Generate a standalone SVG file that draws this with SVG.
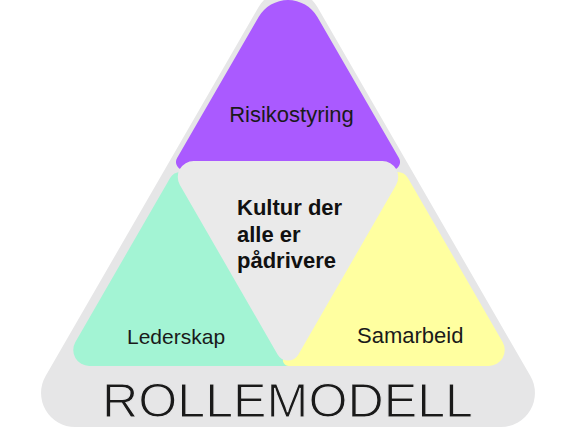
<svg xmlns="http://www.w3.org/2000/svg" width="577" height="436" viewBox="0 0 577 436">
  <style>
    .lbl { font-family: "Liberation Sans", Arial, sans-serif; fill: #1a1a1a; }
    .bold { font-weight: bold; fill: #111; }
    .gray { fill: #e6e6e7; }
    .inner { fill: #eaeaea; }
  </style>
  <rect width="577" height="436" fill="#ffffff"/>
  <g id="rollemodell">
    <path class="gray" d="M 258.6 7 A 34 34 0 0 1 317.4 7 L 530.4 376 A 34 34 0 0 1 500.9 427 L 75.1 427 A 34 34 0 0 1 45.6 376 Z"/>
    <text class="lbl" x="102" y="417" font-size="49" textLength="371" lengthAdjust="spacingAndGlyphs" fill="#222" stroke="#e6e6e7" stroke-width="1.2">ROLLEMODELL</text>
  </g>
  <g id="risikostyring">
    <path fill="#aa5aff" d="M 258.6 17 A 34 34 0 0 1 317.4 17 L 398.9 158 A 8 8 0 0 1 391.9 170 L 184.1 170 A 8 8 0 0 1 177.1 158 Z"/>
    <text class="lbl" x="291.5" y="122" font-size="22" text-anchor="middle">Risikostyring</text>
  </g>
  <g id="lederskap">
    <path fill="#a3f4d4" d="M 170.1 177.9 A 12 12 0 0 1 190.9 177.9 L 294.3 357 A 6 6 0 0 1 289.1 366 L 89.2 366 A 16 16 0 0 1 75.4 342 Z"/>
    <text class="lbl" x="127" y="344" font-size="21">Lederskap</text>
  </g>
  <g id="samarbeid">
    <path fill="#ffffa0" d="M 387.1 177.9 A 12 12 0 0 1 407.9 177.9 L 502.6 342 A 16 16 0 0 1 488.8 366 L 288.9 366 A 6 6 0 0 1 283.7 357 Z"/>
    <text class="lbl" x="357" y="343" font-size="22">Samarbeid</text>
  </g>
  <g id="kultur">
    <path class="inner" d="M 193.7 161 L 382.3 161 A 16 16 0 0 1 396.1 185 L 298.4 354.4 A 12 12 0 0 1 277.6 354.4 L 179.9 185 A 16 16 0 0 1 193.7 161 Z"/>
    <text class="lbl bold" font-size="22">
      <tspan x="237" y="215">Kultur der</tspan>
      <tspan x="237" y="241.5">alle er</tspan>
      <tspan x="237" y="268">pådrivere</tspan>
    </text>
  </g>
  <g id="connectors"/>
</svg>
